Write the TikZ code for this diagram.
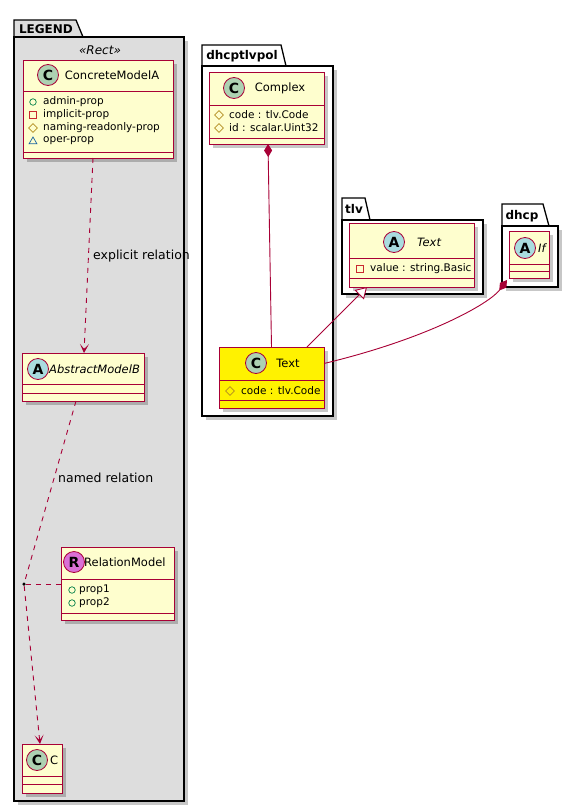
\documentclass[tikz,border=0pt]{standalone}
\usepackage{fontspec}
\setmainfont{DejaVu Sans}
\usetikzlibrary{shadows,arrows.meta,shapes.geometric}
\definecolor{bord}{HTML}{A80036}
\definecolor{cls}{HTML}{FEFECE}
\definecolor{legendbg}{HTML}{DDDDDD}
\definecolor{cc}{HTML}{ADD1B2}
\definecolor{ac}{HTML}{A9DCDF}
\definecolor{rc}{HTML}{DA70D6}
\definecolor{pubc}{HTML}{038048}
\definecolor{privc}{HTML}{C82930}
\definecolor{protc}{HTML}{B38D22}
\definecolor{pkgc}{HTML}{1963A0}
\newcommand{\fsz}[1]{\fontsize{#1}{#1}\selectfont}
\tikzset{
  shd/.style={drop shadow={shadow xshift=4pt, shadow yshift=-4pt, fill=black, opacity=0.22}},
  classbox/.style={draw=bord, fill=cls, line width=1pt, inner sep=0, outer sep=0, anchor=north west, shd},
  pkgbody/.style={draw=black, line width=1.3pt, inner sep=0, outer sep=0, anchor=north west, shd},
  pkgtab/.style={draw=black, line width=1.3pt},
  pkgname/.style={font=\bfseries\fsz{12}, inner sep=0},
  sep/.style={draw=bord, line width=1pt},
  circ/.style={circle, draw=bord, line width=0.8pt, minimum size=21pt, inner sep=0, font=\bfseries\fsz{14}},
  cname/.style={font=\fsz{11.5}, inner sep=0},
  iname/.style={font=\itshape\fsz{11.5}, inner sep=0},
  attr/.style={font=\fsz{10.5}, inner sep=0, anchor=west},
  pubic/.style={circle, draw=pubc, line width=0.7pt, minimum size=6.5pt, inner sep=0},
  privic/.style={rectangle, draw=privc, line width=0.7pt, minimum size=6.5pt, inner sep=0},
  protic/.style={diamond, draw=protc, line width=0.7pt, minimum size=9pt, inner sep=0},
  pkgic/.style={regular polygon, regular polygon sides=3, draw=pkgc, line width=0.7pt, minimum size=9pt, inner sep=0},
  rel/.style={draw=bord, line width=0.9pt},
  dsh/.style={dash pattern=on 5pt off 5pt},
  lbl/.style={font=\fsz{12.5}, inner sep=0, anchor=west},
}
\begin{document}
\begin{tikzpicture}[x=1pt, y=-1pt]
\useasboundingbox (0,0) rectangle (578,811);
\fill[white] (0,0) rectangle (578,811);

% ================= LEGEND package
\draw[pkgtab, fill=legendbg] (14,37) -- (14,20) -- (76,20) -- (83,37);
\node[pkgbody, fill=legendbg, minimum width=170pt, minimum height=764pt] (legend) at (14,37) {};
\node[pkgname] (legendname) at (46,29) {LEGEND};
\node[font=\itshape\fsz{12}, inner sep=0] (stereo) at (100,50) {«Rect»};

% ConcreteModelA
\node[classbox, minimum width=150pt, minimum height=98pt] (cma) at (23,60) {};
\draw[sep] (23,91) -- (173,91);
\draw[sep] (23,152) -- (173,152);
\node[circ, fill=cc] (cmac) at (48,75) {C};
\node[cname] (cman) at (112,75) {ConcreteModelA};
\node[pubic] (cmai1) at (33,102) {};
\node[attr] (cmat1) at (43,102) {admin-prop};
\node[privic] (cmai2) at (33,115) {};
\node[attr] (cmat2) at (43,115) {implicit-prop};
\node[protic] (cmai3) at (33,128) {};
\node[attr] (cmat3) at (43,128) {naming-readonly-prop};
\node[pkgic] (cmai4) at (33,141.5) {};
\node[attr] (cmat4) at (43,141) {oper-prop};

% AbstractModelB
\node[classbox, minimum width=122pt, minimum height=48pt] (amb) at (22,353) {};
\draw[sep] (22,384) -- (144,384);
\draw[sep] (22,393) -- (144,393);
\node[circ, fill=ac] (ambc) at (38,369) {A};
\node[iname, anchor=west] (ambn) at (49,369) {AbstractModelB};

% RelationModel
\node[classbox, minimum width=113pt, minimum height=73pt] (rm) at (61,547) {};
\draw[sep] (61,579) -- (174,579);
\draw[sep] (61,613) -- (174,613);
\node[circ, fill=rc] (rmc) at (74,562) {R};
\node[cname, anchor=west] (rmn) at (84,562) {RelationModel};
\node[pubic] (rmi1) at (72,590) {};
\node[attr] (rmt1) at (79,590) {prop1};
\node[pubic] (rmi2) at (72,603) {};
\node[attr] (rmt2) at (79,603) {prop2};

% C
\node[classbox, minimum width=40pt, minimum height=49pt] (cbox) at (22,744) {};
\draw[sep] (22,776) -- (62,776);
\draw[sep] (22,784) -- (62,784);
\node[circ, fill=cc] (cboxc) at (37,760) {C};
\node[cname, anchor=west] (cboxn) at (50,760) {C};

% legend connectors
\draw[rel, dsh, -{Stealth[length=9pt, width=9pt, inset=5pt]}] ([xshift=-5pt]cma.south) -- ([xshift=1pt]amb.north);
\node[lbl] (lbl1) at (93,256) {explicit relation};
\node[circle, fill=black, minimum size=3.5pt, inner sep=0] (dot) at (24,584) {};
\draw[rel, dsh] ([xshift=-7pt]amb.south) -- (dot);
\node[lbl] (lbl2) at (58,478) {named relation};
\draw[rel, dsh] (dot) -- (dot -| rm.west);
\draw[rel, dsh, -{Stealth[length=9pt, width=9pt, inset=5pt]}] (dot) -- ([xshift=-2pt]cbox.north);

% ================= dhcptlvpol package
\draw[pkgtab, fill=white] (202,66) -- (202,45) -- (281,45) -- (286,66);
\node[pkgbody, fill=white, minimum width=131pt, minimum height=350pt] (pol) at (202,66) {};
\node[pkgname] (polname) at (242,56) {dhcptlvpol};

% Complex
\node[classbox, minimum width=115pt, minimum height=72pt] (cplx) at (209,72) {};
\draw[sep] (209,105) -- (324,105);
\draw[sep] (209,138) -- (324,138);
\node[circ, fill=cc] (cplxc) at (234,88) {C};
\node[cname] (cplxn) at (280,88) {Complex};
\node[protic] (cplxi1) at (219,115) {};
\node[attr] (cplxt1) at (229,115) {code : tlv.Code};
\node[protic] (cplxi2) at (219,128) {};
\node[attr] (cplxt2) at (229,128) {id : scalar.Uint32};

% Text (yellow)
\node[classbox, fill=yellow, minimum width=105pt, minimum height=61pt] (txt) at (219,347) {};
\draw[sep] (219,380) -- (324,380);
\draw[sep] (219,400) -- (324,400);
\node[circ, fill=cc] (txtc) at (256,363) {C};
\node[cname] (txtn) at (288,363) {Text};
\node[protic] (txti1) at (230,391) {};
\node[attr] (txtt1) at (241,391) {code : tlv.Code};

% ================= tlv package
\draw[pkgtab, fill=white] (342,220) -- (342,198) -- (365,198) -- (370,220);
\node[pkgbody, fill=white, minimum width=141pt, minimum height=74pt] (tlv) at (342,220) {};
\node[pkgname] (tlvname) at (354,209) {tlv};

\node[classbox, minimum width=125pt, minimum height=64pt] (tlvt) at (349,223) {};
\draw[sep] (349,258) -- (474,258);
\draw[sep] (349,278) -- (474,278);
\node[circ, fill=ac] (tlvtc) at (394,242) {A};
\node[iname] (tlvtn) at (429,242) {Text};
\node[privic] (tlvti1) at (360,269) {};
\node[attr] (tlvtt1) at (370,269) {value : string.Basic};

% ================= dhcp package
\draw[pkgtab, fill=white] (502,226) -- (502,204) -- (543,204) -- (549,226);
\node[pkgbody, fill=white, minimum width=56pt, minimum height=61pt] (dhcp) at (502,226) {};
\node[pkgname] (dhcpname) at (522,216) {dhcp};

\node[classbox, minimum width=40pt, minimum height=47pt] (ifb) at (509,231) {};
\draw[sep] (509,264) -- (549,264);
\draw[sep] (509,271) -- (549,271);
\node[circ, fill=ac] (ifbc) at (525,248) {A};
\node[iname, anchor=west] (ifbn) at (538,248) {If};

% ================= connectors
\draw[rel, {Diamond[fill=bord, length=13pt, width=8pt]}-] ([xshift=1.5pt]cplx.south) -- (txt.north);
\draw[rel, -{Triangle[open, fill=white, length=11pt, width=13pt]}] ([xshift=35.5pt]txt.north) -- ([xshift=-44.5pt]tlvt.south);
\draw[rel, {Diamond[fill=bord, length=13pt, width=8pt]}-] ([xshift=-2pt, yshift=-2pt]ifb.south west) .. controls (490,303) and (430,338) .. ([yshift=14pt]txt.east);
\end{tikzpicture}
\end{document}
